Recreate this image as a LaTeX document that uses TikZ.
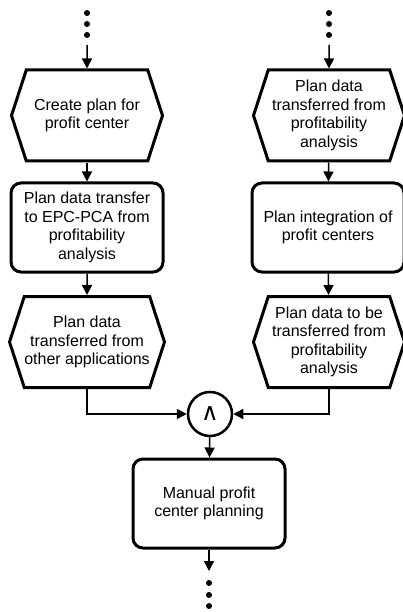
\documentclass[tikz,border=0pt]{standalone}
\usepackage{fontspec}
\setmainfont{Liberation Sans}
\newfontfamily\symfont{DejaVu Sans}
\usetikzlibrary{shapes.symbols, arrows.meta, positioning, calc}
\tikzset{
    event/.style = {shape=signal, signal to=west and east, signal pointer angle=144,
        draw, line width=3pt, minimum width=151pt, minimum height=91pt,
        align=center, inner sep=0pt, font=\fontsize{16}{18.5}\selectfont},
    func/.style = {rectangle, rounded corners=10pt, draw, line width=3pt,
        minimum width=152pt, minimum height=89pt, align=center, inner sep=0pt,
        font=\fontsize{16}{18.5}\selectfont},
    andop/.style = {circle, draw, line width=2.5pt, minimum size=44pt, inner sep=0pt},
    flow/.style = {line width=1.5pt, -{Triangle[length=10pt,width=10pt]}},
    dot/.style = {circle, fill, inner sep=0pt, minimum size=6pt},
}

\begin{document}
\begin{tikzpicture}[x=1pt,y=-1pt]
\useasboundingbox (0,0) rectangle (402,612);

% left column
\node[event] (e1) at (87,115.5) {Create plan for\\profit center};
\node[func] (f1) at (87,227.5) {Plan data transfer\\to EPC-PCA from\\profitability\\analysis};
\node[event] (e2) at (87,342) {Plan data\\transferred from\\other applications};

% right column
\node[event] (e3) at (329,115.5) {Plan data\\transferred from\\profitability\\analysis};
\node[func] (f2) at (328,227.5) {Plan integration of\\profit centers};
\node[event] (e4) at (329,342) {Plan data to be\\transferred from\\profitability\\analysis};

% join
\node[andop] (and) at (210,414) {\symfont\fontsize{24}{24}\selectfont ∧};
\node[func] (f3) at (209,503.5) {Manual profit\\center planning};

\coordinate (ltop) at (87,45);
\coordinate (rtop) at (329,45);
\coordinate (bot) at (209,571);

\foreach \y in {13,24,35} {
    \node[dot] (ld\y) at (87,\y) {};
    \node[dot] (rd\y) at (329,\y) {};
}
\foreach \y in {583,595,606}
    \node[dot] (bd\y) at (209,\y) {};

\draw[flow] (ltop) -- (e1);
\draw[flow] (e1) -- (f1);
\draw[flow] (f1) -- (e2);
\draw[flow] (rtop) -- (e3);
\draw[flow] (e3) -- (f2);
\draw[flow] (f2) -- (e4);
\draw[flow] (e2.south) |- (and.west);
\draw[flow] (e4.south) |- (and.east);
\draw[flow] (and) -- (f3);
\draw[flow] (f3) -- (bot);

\end{tikzpicture}
\end{document}
